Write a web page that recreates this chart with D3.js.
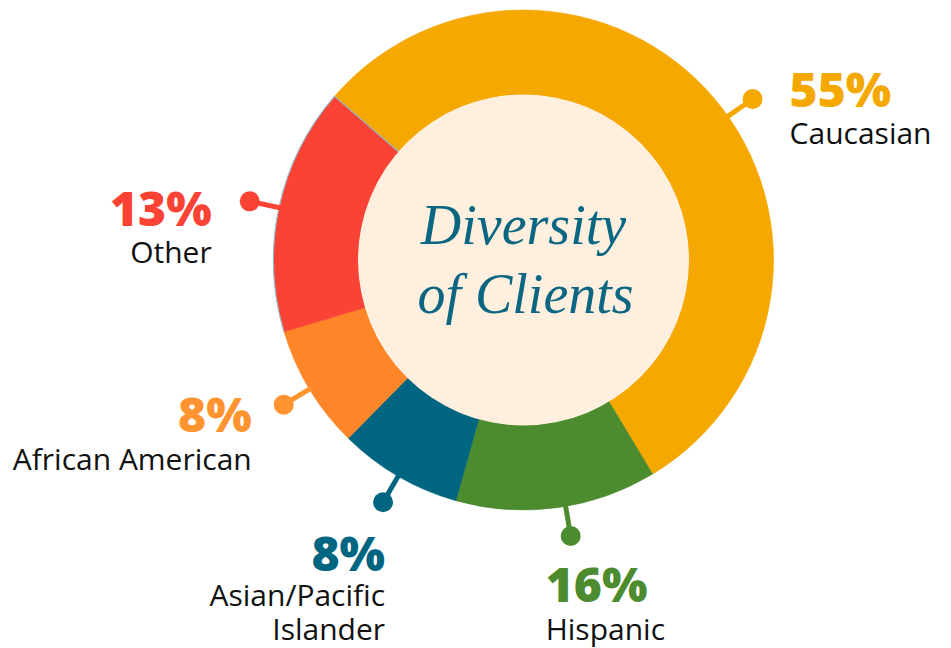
<!DOCTYPE html>
<html>
<head>
<meta charset="utf-8">
<script src="https://cdn.jsdelivr.net/npm/d3@7"></script>
<style>
  html, body { margin: 0; padding: 0; background: #ffffff; }
  svg { display: block; }
</style>
</head>
<body>
<svg id="chart" width="951" height="648"></svg>
<script>
// ---- data ----
const categories = ["Caucasian", "Hispanic", "Asian/Pacific Islander", "African American", "Other"];
const sliceShares = [55, 13, 8, 8, 16];            // arc sizes as drawn
const percentLabels = ["55%", "16%", "8%", "8%", "13%"]; // printed figures
const labelLines = [["Caucasian"], ["Hispanic"], ["Asian/Pacific", "Islander"], ["African American"], ["Other"]];
const sliceColors = ["#F5A800", "#4C8C2F", "#006580", "#FE8628", "#FA4335"];
const labelColors = ["#F5A800", "#4C8C2F", "#006580", "#FF9430", "#FA4335"];
const titleLines = ["Diversity", "of Clients"];

// ---- layout ----
const W = 951, H = 648;
const cx = 523.5, cy = 260;
const rOuter = 250, rInner = 165, rDot = 280;
const deg = Math.PI / 180;
const startAngle = -49.1 * deg;

// leader angle nudges and text placement relative to dot
const labelLayout = [
  { nudge: 5,  anchor: "start", dx: 37,  dy: 8,  gap: 37 },
  { nudge: -2, anchor: "start", dx: -25, dy: 66, gap: 38 },
  { nudge: 0,  anchor: "end",   dx: 2,   dy: 69, gap: 35 },
  { nudge: 0,  anchor: "end",   dx: -32, dy: 27, gap: 38 },
  { nudge: 0,  anchor: "end",   dx: -38, dy: 25, gap: 37 }
];

const svg = d3.select("#chart");
const g = svg.append("g").attr("transform", `translate(${cx},${cy})`);

const pie = d3.pie().sort(null).value(d => d)
  .startAngle(startAngle).endAngle(startAngle + 2 * Math.PI);
const arcs = pie(sliceShares);
const arc = d3.arc().innerRadius(rInner).outerRadius(rOuter);

g.selectAll("path.slice").data(arcs).join("path")
  .attr("class", "slice")
  .attr("d", arc)
  .attr("fill", (d, i) => sliceColors[i])
  .attr("stroke", (d, i) => sliceColors[i])
  .attr("stroke-width", 0.6);

// faint bluish edge on the "Other" slice (outer rim and edge with Caucasian)
const other = arcs[4];
const rim = d3.arc().innerRadius(rOuter).outerRadius(rOuter)
  .startAngle(other.startAngle).endAngle(other.endAngle);
g.append("path").attr("d", rim()).attr("fill", "none")
  .attr("stroke", "#8fbccb").attr("stroke-width", 1.1);
g.append("path")
  .attr("d", d3.lineRadial()([[other.endAngle, rInner], [other.endAngle, rOuter]]))
  .attr("stroke", "#8fbccb").attr("stroke-width", 1.1).attr("fill", "none");

// cream centre
g.append("circle").attr("r", rInner + 0.5).attr("fill", "#FEEFDF");

// title
const title = g.append("text")
  .attr("text-anchor", "middle")
  .attr("fill", "#0B6682")
  .style("font-family", "'Liberation Serif', 'DejaVu Serif', serif")
  .style("font-style", "italic")
  .style("font-size", "56px");
title.selectAll("tspan").data(titleLines).join("tspan")
  .attr("x", (d, i) => i === 0 ? 0 : 2)
  .attr("y", (d, i) => i === 0 ? -16 : 53)
  .text(d => d);

// leaders, dots and labels
arcs.forEach((d, i) => {
  const L = labelLayout[i];
  const a = (d.startAngle + d.endAngle) / 2 + L.nudge * deg;
  const px = r => r * Math.sin(a), py = r => -r * Math.cos(a);
  g.append("line")
    .attr("x1", px(rOuter - 2)).attr("y1", py(rOuter - 2))
    .attr("x2", px(rDot)).attr("y2", py(rDot))
    .attr("stroke", labelColors[i]).attr("stroke-width", 5);
  g.append("circle")
    .attr("cx", px(rDot)).attr("cy", py(rDot)).attr("r", 10)
    .attr("fill", labelColors[i]);

  const tx = px(rDot) + L.dx, ty = py(rDot) + L.dy;
  g.append("text")
    .attr("x", tx).attr("y", ty)
    .attr("text-anchor", L.anchor)
    .attr("fill", labelColors[i])
    .style("font-family", "'Open Sans', Lato, sans-serif")
    .style("font-weight", 800)
    .style("font-size", "48px")
    .text(percentLabels[i]);
  const t = g.append("text")
    .attr("text-anchor", L.anchor)
    .attr("fill", "#111111")
    .style("font-family", "'Open Sans', Lato, sans-serif")
    .style("font-size", "30px");
  t.selectAll("tspan").data(labelLines[i]).join("tspan")
    .attr("x", tx)
    .attr("y", (s, k) => ty + L.gap + k * 34)
    .text(s => s);
});
</script>
</body>
</html>
